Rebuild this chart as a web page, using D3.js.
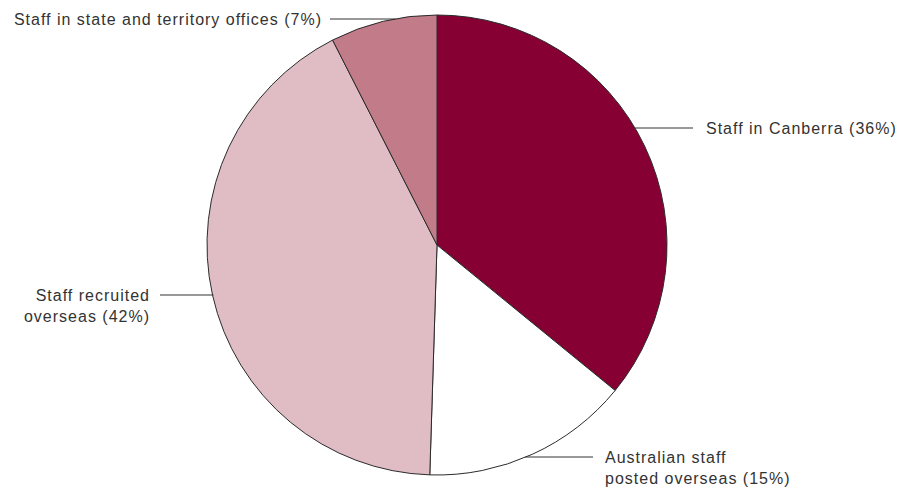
<!DOCTYPE html>
<html>
<head>
<meta charset="utf-8">
<script src="https://cdn.jsdelivr.net/npm/d3@7/dist/d3.min.js"></script>
<style>
  html, body { margin: 0; padding: 0; background: #fff; }
  svg { display: block; }
  text { font-family: "Liberation Sans", Arial, Helvetica, sans-serif; font-size: 16px; letter-spacing: 1px; fill: #333; }
</style>
</head>
<body>
<svg id="chart" width="900" height="488"></svg>
<script>
// Data
const categories = ["Staff in Canberra", "Australian staff posted overseas", "Staff recruited overseas", "Staff in state and territory offices"];
const values = [35.9, 14.6, 42.0, 7.5];         // share of staff
const percentLabels = [36, 15, 42, 7];           // percentages as printed
const colors = ["#870033", "#ffffff", "#e0bdc5", "#c27b89"];

// Label text lines
const labelLines = [
  ["Staff in Canberra (36%)"],
  ["Australian staff", "posted overseas (15%)"],
  ["Staff recruited", "overseas (42%)"],
  ["Staff in state and territory offices (7%)"]
];
// leader y, leader end x, text x, anchor, first baseline y
const labelLayout = [
  { ly: 128, lx: 693, tx: 706, anchor: "start", by: 134 },
  { ly: 457, lx: 593, tx: 605, anchor: "start", by: 463 },
  { ly: 295, lx: 160, tx: 150, anchor: "end", by: 301 },
  { ly: 19,  lx: 330, tx: 322, anchor: "end", by: 25 }
];

const svg = d3.select("#chart");
const cx = 437, cy = 245, r = 230;
const g = svg.append("g").attr("transform", `translate(${cx},${cy})`);

const pie = d3.pie().sort(null).value(d => d)(values);
const arc = d3.arc().innerRadius(0).outerRadius(r);

g.selectAll("path.slice")
  .data(pie)
  .join("path")
  .attr("class", "slice")
  .attr("d", arc)
  .attr("fill", (d, i) => colors[i])
  .attr("stroke", "#2b2b2b")
  .attr("stroke-width", 1)
  .attr("stroke-linejoin", "round");

// Leader lines and labels
labelLayout.forEach((L, i) => {
  const dy = L.ly - cy;
  const dx = Math.sqrt(Math.max(0, r * r - dy * dy));
  const ax = L.anchor === "start" ? cx + dx - 1 : cx - dx + 1;
  svg.append("line")
    .attr("x1", ax).attr("y1", L.ly)
    .attr("x2", L.lx).attr("y2", L.ly)
    .attr("stroke", "#333").attr("stroke-width", 1);
  const t = svg.append("text")
    .attr("x", L.tx).attr("y", L.by)
    .attr("text-anchor", L.anchor);
  labelLines[i].forEach((s, j) => {
    t.append("tspan").attr("x", L.tx).attr("dy", j === 0 ? 0 : 21).text(s);
  });
});
</script>
</body>
</html>
